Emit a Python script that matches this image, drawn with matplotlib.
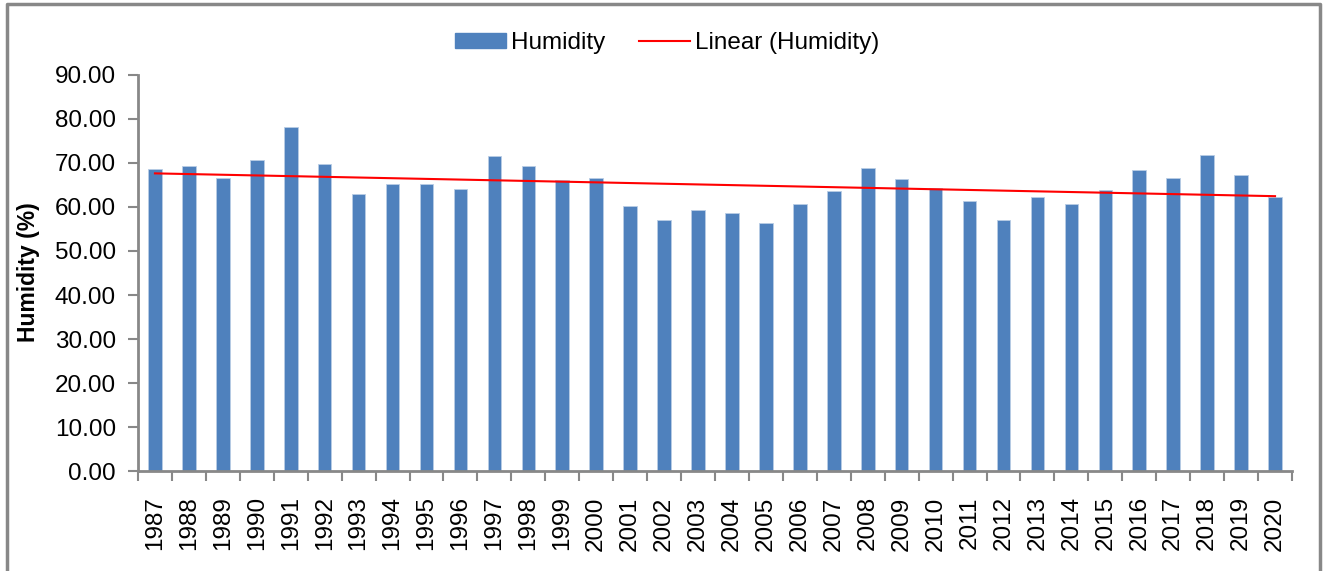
import numpy as np
import matplotlib
matplotlib.use("Agg")
import matplotlib.pyplot as plt
from matplotlib.lines import Line2D
from matplotlib.patches import Patch

years = [str(y) for y in range(1987, 2021)]
humidity = [68.7, 69.3, 66.6, 70.7, 78.1, 69.8, 62.9, 65.2, 65.2, 64.1,
            71.5, 69.3, 66.1, 66.6, 60.2, 57.0, 59.4, 58.7, 56.3, 60.7,
            63.6, 68.8, 66.3, 64.3, 61.4, 57.0, 62.2, 60.7, 63.8, 68.4,
            66.6, 71.7, 67.2, 62.3]
yticks = np.arange(0, 91, 10)

plt.rcParams['font.family'] = ['Liberation Sans', 'DejaVu Sans']

W, H = 1325, 571
fig = plt.figure(figsize=(W / 100, H / 100), dpi=100)
ax = fig.add_axes([138 / W, 1 - 471.3 / H, (1292 - 138) / W, (471.3 - 74.7) / H])

x = np.arange(len(years))
bar_color = '#4F81BD'
ax.bar(x, humidity, width=0.4, color=bar_color, edgecolor='#B9CDE5', linewidth=0.6, zorder=2)

coef = np.polyfit(x, humidity, 1)
trend = np.polyval(coef, x)
ax.plot(x, trend, color='#FF0000', linewidth=1.5, zorder=3)

ax.set_xlim(-0.5, len(years) - 0.5)
ax.set_ylim(0, 90)
ax.set_yticks(yticks)
ax.set_yticklabels([f'{v:.2f}' for v in yticks], fontsize=17.5)
ax.set_xticks(x)
ax.set_xticklabels(years, rotation=90, fontsize=17.5)
ax.tick_params(axis='x', which='major', length=0, pad=18)
ax.set_xticks(np.arange(-0.5, len(years), 1.0), minor=True)
ax.tick_params(axis='x', which='minor', length=7, color='#888888', width=1.5, direction='out')
ax.tick_params(axis='y', length=7, color='#888888', width=1.5, direction='out', pad=9)

for s in ['top', 'right']:
    ax.spines[s].set_visible(False)
for s in ['left', 'bottom']:
    ax.spines[s].set_color('#888888')
    ax.spines[s].set_linewidth(2)

fig.text(29 / W, 1 - 272 / H, 'Humidity (%)', rotation=90, fontsize=16.5,
         fontweight='bold', ha='center', va='center')

handles = [Patch(facecolor=bar_color, edgecolor=bar_color),
           Line2D([0], [0], color='#FF0000', linewidth=1.5)]
fig.legend(handles, ['Humidity', 'Linear (Humidity)'], loc='center',
           bbox_to_anchor=(667 / W, 1 - 43 / H), ncol=2, frameon=False,
           fontsize=17.5, handlelength=2.1, handleheight=0.6, handletextpad=0.2,
           columnspacing=1.4, borderpad=0, borderaxespad=0)

# outer chart border
border = Line2D([6.5 / W, 6.5 / W, 1319.5 / W, 1319.5 / W],
                [0, 1 - 4 / H, 1 - 4 / H, 0], transform=fig.transFigure,
                color='#888888', linewidth=2.5)
fig.add_artist(border)

fig.savefig('out.png', dpi=100, facecolor='white')
